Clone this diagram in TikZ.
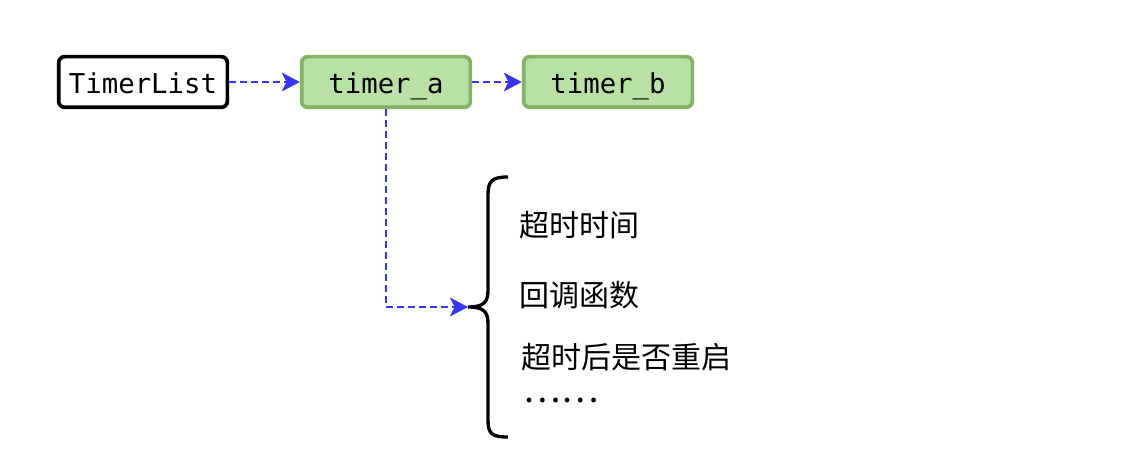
\documentclass[tikz,border=0pt]{standalone}
\usepackage{fontspec}
\setmonofont{DejaVu Sans Mono}
\newfontfamily\cjk{Noto Sans CJK SC}
\usepackage{tikz}
\usetikzlibrary{arrows.meta}
\definecolor{linkblue}{HTML}{3535F2}
\definecolor{nodegreen}{HTML}{B9E0A5}
\definecolor{nodeedge}{HTML}{82B366}

\begin{document}
\begin{tikzpicture}

\tikzstyle{box}=[rounded corners=4.5pt, line width=2.75pt, minimum width=126.5pt, minimum height=38pt, inner sep=0pt, text height=19pt, text depth=1pt, font=\ttfamily\fontsize{20.5pt}{24pt}\selectfont]
\tikzstyle{head}=[box, draw=black, fill=white]
\tikzstyle{timer}=[box, draw=nodeedge, fill=nodegreen]
\tikzstyle{link}=[draw=linkblue, line width=2pt, dash pattern=on 5.25pt off 3pt, -{Stealth[length=13.5pt,width=14pt,inset=3.5pt]}]
\tikzstyle{field}=[anchor=west, inner sep=0pt, font=\cjk\fontsize{22.5pt}{27pt}\selectfont]

\useasboundingbox (0pt,0pt) rectangle (846pt,351pt);

\node[head]  at (107.25pt, 289.5pt)  (list) {TimerList};
\node[timer] at (289.5pt, 289.5pt)   (ta) {timer\_a};
\node[timer] at (456pt, 289.5pt)     (tb) {timer\_b};

\coordinate (tip) at (351pt, 120.75pt);

\draw[link] (list) to (ta);
\draw[link] (ta) to (tb);
\draw[link] (ta.south) |- (tip);

% brace
\draw[line width=2.5pt] (381pt,218.25pt) .. controls (369pt,218.25pt) and (366pt,215.25pt) .. (366pt,204.75pt)
  -- (366pt,133.5pt) .. controls (366pt,124.5pt) and (363pt,120.75pt) .. (tip)
  .. controls (363pt,120.75pt) and (366pt,117pt) .. (366pt,108pt)
  -- (366pt,36pt) .. controls (366pt,25.5pt) and (369pt,23.25pt) .. (381pt,23.25pt);

\node[field] at (389.25pt, 182.25pt) (timeout) {超时时间};
\node[field] at (389.25pt, 129.75pt) (callback) {回调函数};
\node[field] at (390.75pt, 83.25pt)  (restart) {超时后是否重启};
\node[field, anchor=base west, font=\cjk\fontsize{26.5pt}{30pt}\selectfont] at (392.5pt, 49pt) (more) {……};

\end{tikzpicture}
\end{document}
